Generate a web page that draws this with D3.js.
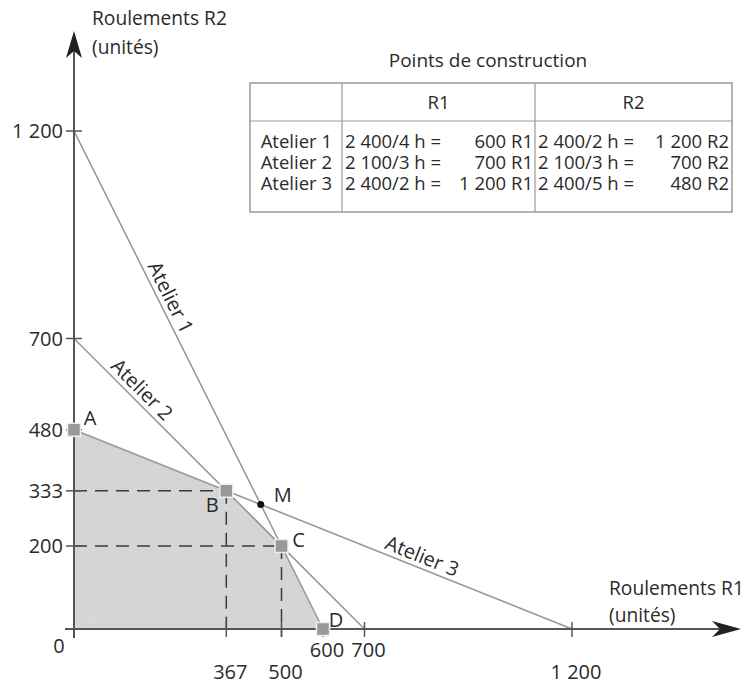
<!DOCTYPE html>
<html>
<head>
<meta charset="utf-8">
<script src="https://cdn.jsdelivr.net/npm/d3@7"></script>
<style>
  html, body { margin: 0; padding: 0; background: #fff; }
  svg text { font-family: "Open Sans", "Noto Sans", sans-serif; fill: #2b2b2b; }
</style>
</head>
<body>
<svg id="chart" width="748" height="685"></svg>
<script>
// ---------- data ----------
const ateliers = ["Atelier 1", "Atelier 2", "Atelier 3"];
const r1Max = [600, 700, 1200];
const r2Max = [1200, 700, 480];
const r1Calc = ["2 400/4 h =", "2 100/3 h =", "2 400/2 h ="];
const r2Calc = ["2 400/2 h =", "2 100/3 h =", "2 400/5 h ="];
const pointNames = ["A", "B", "C", "D"];
const pointR1 = [0, 367, 500, 600];
const pointR2 = [480, 333, 200, 0];
const mName = "M";
const mR1 = 450;
const mR2 = 300;
const yTicks = [1200, 700, 480, 333, 200];
const xTicks = [367, 500, 600, 700, 1200];
const xTickHigh = [600, 700];   // labels drawn on the upper row
const tableTitle = "Points de construction";
const tableHeaders = ["R1", "R2"];
const yTitle = ["Roulements R2", "(unités)"];
const xTitle = ["Roulements R1", "(unités)"];

// ---------- setup ----------
const svg = d3.select("#chart");
const x = d3.scaleLinear().domain([0, 1200]).range([74, 572]);
const y = d3.scaleLinear().domain([0, 1200]).range([629, 131]);
const fmt = d => d3.format(",")(d).replace(/,/g, " ");
const lineCol = "#999";
const axisCol = "#555";
const FS = 20;       // tick label font size
const TITLEFS = 19.2;// axis title font size
const TFS = 18.5;    // table font size

// feasible region
const region = [[0, 0]].concat(pointR1.map((v, i) => [v, pointR2[i]]));
svg.append("path")
  .attr("d", d3.line().x(d => x(d[0])).y(d => y(d[1]))(region) + "Z")
  .attr("fill", "#d5d5d5");

svg.append("text").attr("x", x(0) + 13).attr("y", y(0) - 6)
  .attr("font-size", 17).style("fill", "#dadada").text("E");

// dashed guides
const guides = [1, 2];
guides.forEach(i => {
  svg.append("line")
    .attr("x1", x(0)).attr("x2", x(pointR1[i]))
    .attr("y1", y(pointR2[i])).attr("y2", y(pointR2[i]))
    .attr("stroke", "#3a3a3a").attr("stroke-width", 1.5).attr("stroke-dasharray", "13,8");
  svg.append("line")
    .attr("x1", x(pointR1[i])).attr("x2", x(pointR1[i]))
    .attr("y1", y(pointR2[i])).attr("y2", y(0) + 8)
    .attr("stroke", "#3a3a3a").attr("stroke-width", 1.5).attr("stroke-dasharray", "13,8");
});

// constraint lines
ateliers.forEach((name, i) => {
  svg.append("line")
    .attr("x1", x(0)).attr("y1", y(r2Max[i]))
    .attr("x2", x(r1Max[i])).attr("y2", y(0))
    .attr("stroke", lineCol).attr("stroke-width", 1.6);
});

// line labels
const labelT = [0.345, 0.205, 0.69];
ateliers.forEach((name, i) => {
  const x0 = x(0), y0 = y(r2Max[i]), x1 = x(r1Max[i]), y1 = y(0);
  const px = x0 + (x1 - x0) * labelT[i];
  const py = y0 + (y1 - y0) * labelT[i];
  const ang = Math.atan2(y1 - y0, x1 - x0) * 180 / Math.PI;
  svg.append("text")
    .attr("transform", `translate(${px},${py}) rotate(${ang})`)
    .attr("text-anchor", "middle")
    .attr("y", -5)
    .attr("font-size", 20)
    .text(name);
});

// axes
svg.append("line").attr("x1", x(0)).attr("x2", x(0))
  .attr("y1", y(0) + 9).attr("y2", 50)
  .attr("stroke", axisCol).attr("stroke-width", 2);
svg.append("line").attr("x1", x(0) - 9).attr("x2", 722)
  .attr("y1", y(0)).attr("y2", y(0))
  .attr("stroke", axisCol).attr("stroke-width", 2);
// arrowheads
const ax = x(0);
svg.append("path")
  .attr("d", `M${ax},31 L${ax + 8},58 L${ax},51 L${ax - 8},58 Z`)
  .attr("fill", "#222");
const ay = y(0);
svg.append("path")
  .attr("d", `M741,${ay} L712,${ay - 8} L720,${ay} L712,${ay + 8} Z`)
  .attr("fill", "#222");

// y ticks
const yt = svg.append("g");
yTicks.forEach(v => {
  yt.append("line").attr("x1", x(0) - 8).attr("x2", x(0) + 8)
    .attr("y1", y(v)).attr("y2", y(v))
    .attr("stroke", axisCol).attr("stroke-width", 1.5);
  yt.append("text").attr("x", x(0) - 11).attr("y", y(v)).attr("dy", "0.36em")
    .attr("text-anchor", "end").attr("font-size", FS).text(fmt(v));
});
// x ticks
const xt = svg.append("g");
xTicks.forEach(v => {
  xt.append("line").attr("x1", x(v)).attr("x2", x(v))
    .attr("y1", y(0) - 7).attr("y2", y(0) + 8)
    .attr("stroke", axisCol).attr("stroke-width", 1.5);
  const high = xTickHigh.includes(v);
  xt.append("text").attr("x", x(v) + 4).attr("y", high ? y(0) + 21 : y(0) + 43)
    .attr("dy", "0.36em").attr("text-anchor", "middle").attr("font-size", FS).text(fmt(v));
});
svg.append("text").attr("x", x(0) - 15).attr("y", y(0) + 17).attr("dy", "0.36em")
  .attr("text-anchor", "middle").attr("font-size", FS).text("0");

// axis titles
yTitle.forEach((t, i) => {
  svg.append("text").attr("x", 92).attr("y", 18 + i * 29).attr("dy", "0.36em")
    .attr("font-size", TITLEFS).text(t);
});
xTitle.forEach((t, i) => {
  svg.append("text").attr("x", 609).attr("y", 588 + i * 27).attr("dy", "0.36em")
    .attr("font-size", TITLEFS).text(t);
});

// points
const ptOffsets = [[16, -12], [-14, 14], [17, -6], [13, -9]];
pointNames.forEach((n, i) => {
  svg.append("rect")
    .attr("x", x(pointR1[i]) - 6.5).attr("y", y(pointR2[i]) - 6.5)
    .attr("width", 13).attr("height", 13)
    .attr("fill", "#999").attr("stroke", "#eee").attr("stroke-width", 1.5);
  svg.append("text")
    .attr("x", x(pointR1[i]) + ptOffsets[i][0]).attr("y", y(pointR2[i]) + ptOffsets[i][1])
    .attr("dy", "0.36em").attr("text-anchor", "middle").attr("font-size", 20).text(n);
});
svg.append("circle").attr("cx", x(mR1)).attr("cy", y(mR2)).attr("r", 3.5).attr("fill", "#111");
svg.append("text").attr("x", x(mR1) + 22).attr("y", y(mR2) - 10).attr("dy", "0.36em")
  .attr("text-anchor", "middle").attr("font-size", 20).text(mName);

// table
const tb = svg.append("g");
const tL = 250, tR = 732, tT = 83, tB = 212, c1 = 342, c2 = 535, hB = 121;
tb.append("text").attr("x", 488).attr("y", 60).attr("dy", "0.36em")
  .attr("text-anchor", "middle").attr("font-size", 19).text(tableTitle);
tb.append("rect").attr("x", tL).attr("y", tT).attr("width", tR - tL).attr("height", tB - tT)
  .attr("fill", "none").attr("stroke", "#999").attr("stroke-width", 1.5);
[c1, c2].forEach(cx => tb.append("line").attr("x1", cx).attr("x2", cx).attr("y1", tT).attr("y2", tB)
  .attr("stroke", "#999").attr("stroke-width", 1.2));
tb.append("line").attr("x1", tL).attr("x2", tR).attr("y1", hB).attr("y2", hB)
  .attr("stroke", "#999").attr("stroke-width", 1.2);
tb.append("text").attr("x", (c1 + c2) / 2).attr("y", 102.5).attr("dy", "0.36em")
  .attr("text-anchor", "middle").attr("font-size", TFS).text(tableHeaders[0]);
tb.append("text").attr("x", (c2 + tR) / 2).attr("y", 102.5).attr("dy", "0.36em")
  .attr("text-anchor", "middle").attr("font-size", TFS).text(tableHeaders[1]);

// one text block per column, one tspan per row
const rowY0 = 141, rowStep = 21;
const columns = [
  { x: c1 - 10, anchor: "end",   rows: ateliers },
  { x: c1 + 3,  anchor: "start", rows: r1Calc },
  { x: c2 - 2,  anchor: "end",   rows: r1Max.map(v => fmt(v) + " R1") },
  { x: c2 + 3,  anchor: "start", rows: r2Calc },
  { x: tR - 3,  anchor: "end",   rows: r2Max.map(v => fmt(v) + " R2") }
];
columns.forEach(col => {
  const t = tb.append("text").attr("text-anchor", col.anchor).attr("font-size", TFS);
  col.rows.forEach((r, i) => {
    t.append("tspan").attr("x", col.x).attr("y", rowY0 + i * rowStep)
      .attr("dy", "0.36em").text(r);
  });
});
</script>
</body>
</html>
